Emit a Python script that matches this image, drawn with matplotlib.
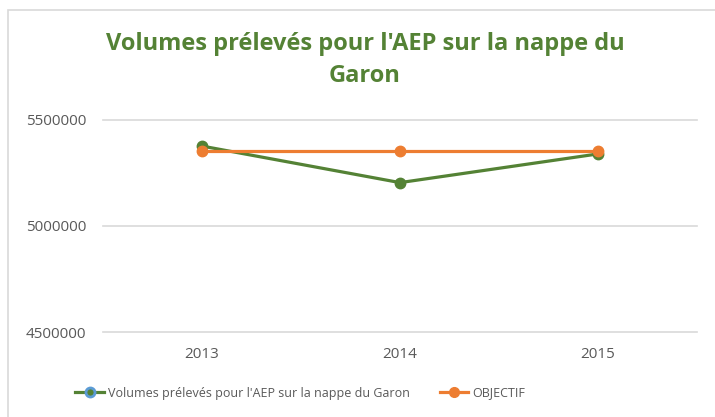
import matplotlib
matplotlib.use("Agg")
import matplotlib.pyplot as plt
from matplotlib.lines import Line2D
from matplotlib.patches import Rectangle

years = ["2013", "2014", "2015"]
volumes = [5375000, 5203000, 5338000]
objectif = [5350000, 5350000, 5350000]
y_ticks = [4500000, 5000000, 5500000]

title = "Volumes prélevés pour l'AEP sur la nappe du\nGaron"
label_volumes = "Volumes prélevés pour l'AEP sur la nappe du Garon"
label_objectif = "OBJECTIF"

GREEN = "#548235"
ORANGE = "#ED7D31"
BLUE = "#5B9BD5"
GRAY_TXT = "#595959"
GRID = "#D9D9D9"

W, H = 715, 417
fig = plt.figure(figsize=(W / 100, H / 100), dpi=100)
fig.patch.set_facecolor("white")

# chart frame
fig.patches.append(Rectangle((8 / W, -0.1), 1.2, 1 - 10 / H + 0.1,
                             transform=fig.transFigure, fill=False,
                             edgecolor=GRID, linewidth=1.2))

ax = fig.add_axes([103 / W, 1 - 332 / H, (697 - 103) / W, (332 - 119.5) / H])
x = list(range(len(years)))
ax.plot(x, volumes, color=GREEN, lw=2.3, marker="o", ms=7.5,
        mfc=GREEN, mec=GREEN, zorder=3)
ax.plot(x, objectif, color=ORANGE, lw=2.3, marker="o", ms=7.5,
        mfc=ORANGE, mec=ORANGE, zorder=4)

ax.set_xlim(-0.5, len(years) - 0.5)
ax.set_ylim(y_ticks[0], y_ticks[-1])
ax.set_yticks(y_ticks)
ax.set_yticklabels([str(v) for v in y_ticks])
ax.set_xticks(x)
ax.set_xticklabels(years)
ax.grid(axis="y", color=GRID, lw=1.2)
for gl in ax.get_ygridlines():
    gl.set_clip_on(False)
ax.set_axisbelow(True)
for s in ax.spines.values():
    s.set_visible(False)
ax.tick_params(length=0, labelsize=11, labelcolor=GRAY_TXT)
ax.tick_params(axis="x", pad=11)
ax.tick_params(axis="y", pad=12)
for lab in ax.get_xticklabels() + ax.get_yticklabels():
    lab.set_family("Open Sans")

fig.text(365 / W, 1 - 60 / H, title, ha="center", va="center",
         fontsize=17, fontweight="bold", color=GREEN, family="Open Sans",
         linespacing=1.45)

handles = [
    Line2D([], [], color=GREEN, lw=2.3, marker="o", ms=6.5, mfc=GREEN,
           mec=BLUE, mew=2),
    Line2D([], [], color=ORANGE, lw=2.3, marker="o", ms=7, mfc=ORANGE,
           mec=ORANGE),
]
leg = fig.legend(handles, [label_volumes, label_objectif], loc="center",
                 bbox_to_anchor=(300 / W, 1 - 393 / H), ncol=2, frameon=False,
                 prop={"family": "Open Sans", "size": 9},
                 handlelength=2.3, handletextpad=0.3, columnspacing=2.4)
for t in leg.get_texts():
    t.set_color(GRAY_TXT)

fig.savefig("out.png", dpi=100)
